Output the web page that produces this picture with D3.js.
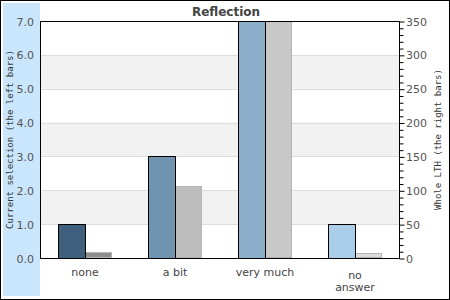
<!DOCTYPE html>
<html><head><meta charset="utf-8">
<script src="https://cdn.jsdelivr.net/npm/d3@7"></script>
<style>body{margin:0;background:#fff}svg{display:block}</style>
</head><body>
<script>
const title = "Reflection";
const categories = ["none", "a bit", "very much", "no answer"];
const currentValues = [1.0, 3.0, 7.0, 1.0];
const wholeValues = [9, 107, 350, 7];
const leftTicks = [0, 1, 2, 3, 4, 5, 6, 7];
const rightTicks = [0, 50, 100, 150, 200, 250, 300, 350];
const leftColors = ["#3f5f7c", "#7093b0", "#8caecb", "#aacee9"];
const rightColors = ["#8e8e8e", "#bdbdbd", "#c8c8c8", "#dcdcdc"];
const leftTitle = "Current selection (the left bars)";
const rightTitle = "Whole LTH (the right bars)";

const W = 450, H = 300;
const L = 40, R = 399, T = 21, B = 258;
const svg = d3.select("body").append("svg").attr("width", W).attr("height", H);

svg.append("rect").attr("x", 0.5).attr("y", 0.5).attr("width", W - 1).attr("height", H - 1)
  .attr("fill", "#fff").attr("stroke", "#000");
svg.append("rect").attr("x", 3).attr("y", 3).attr("width", L - 3).attr("height", 293).attr("fill", "#c9e6fc");

const x = d3.scaleBand().domain(categories).range([L, R + 1]).paddingInner(0.4).paddingOuter(0.2);
const yL = d3.scaleLinear().domain([0, 7]).range([B, T]).clamp(true);
const yR = d3.scaleLinear().domain([0, 350]).range([B, T]).clamp(true);

// bands
const bands = [[1, 2], [3, 4], [5, 6]];
svg.selectAll(".band").data(bands).enter().append("rect")
  .attr("x", L).attr("width", R - L)
  .attr("y", d => yL(d[1])).attr("height", d => yL(d[0]) - yL(d[1]))
  .attr("fill", "#f2f2f2");
svg.selectAll(".grid").data(leftTicks.slice(1, -1)).enter().append("line")
  .attr("x1", L).attr("x2", R)
  .attr("y1", d => Math.round(yL(d)) + 0.5).attr("y2", d => Math.round(yL(d)) + 0.5)
  .attr("stroke", "#dddddd");

const bw = x.bandwidth() / 2;
// right bars (gray)
svg.selectAll(".rb").data(wholeValues).enter().append("rect")
  .attr("x", (d, i) => Math.round(x(categories[i]) + bw) + 0.5)
  .attr("width", Math.round(bw) - 1)
  .attr("y", d => Math.round(yR(d)) + 0.5)
  .attr("height", d => Math.round(B - yR(d)) - 1)
  .attr("fill", (d, i) => rightColors[i]).attr("stroke", "#b4b4b4");
// left bars
svg.selectAll(".lb").data(currentValues).enter().append("rect")
  .attr("x", (d, i) => Math.round(x(categories[i])) + 0.5)
  .attr("width", Math.round(bw))
  .attr("y", d => Math.round(yL(d)) + 0.5)
  .attr("height", d => Math.round(B - yL(d)))
  .attr("fill", (d, i) => leftColors[i]).attr("stroke", "#000");

// frame
svg.append("rect").attr("x", L + 0.5).attr("y", T + 0.5).attr("width", R - L).attr("height", B - T)
  .attr("fill", "none").attr("stroke", "#000");

// left axis labels
svg.selectAll(".lt").data(leftTicks).enter().append("text")
  .attr("x", 34).attr("y", d => yL(d) + 4.5)
  .attr("text-anchor", "end").attr("font-family", "DejaVu Sans").attr("font-size", 11)
  .attr("fill", "#555").text(d => d.toFixed(1));

// right axis
const rAxis = d3.axisRight(yR).tickValues(d3.range(0, 351, 10)).tickSize(4).tickFormat("");
const ga = svg.append("g").attr("transform", `translate(${R + 0.5},0.5)`).call(rAxis);
ga.select(".domain").remove();
ga.selectAll("line").attr("stroke", "#000");
ga.selectAll(".tick").filter(d => d % 50 === 0).select("line").attr("x2", 5);
svg.selectAll(".rt").data(rightTicks).enter().append("text")
  .attr("x", 406).attr("y", d => yR(d) + 4.5)
  .attr("font-family", "DejaVu Sans").attr("font-size", 11)
  .attr("fill", "#555").text(d => d);

// x labels
categories.forEach((c, i) => {
  const cx = x(c) + x.bandwidth() / 2;
  const t = svg.append("text").attr("text-anchor", "middle").attr("font-family", "DejaVu Sans")
    .attr("font-size", 11).attr("fill", "#444");
  if (c === "no answer") {
    t.append("tspan").attr("x", cx).attr("y", 279).text("no");
    t.append("tspan").attr("x", cx).attr("y", 291).text("answer");
  } else {
    t.attr("x", cx).attr("y", 276).text(c);
  }
});

// titles
svg.append("text").attr("x", 226).attr("y", 16).attr("text-anchor", "middle")
  .attr("font-family", "DejaVu Sans").attr("font-weight", "bold").attr("font-size", 12)
  .attr("fill", "#444").text(title);
svg.append("text").attr("transform", `translate(13,${(T + B) / 2}) rotate(-90)`)
  .attr("text-anchor", "middle").attr("font-family", "DejaVu Sans Mono").attr("font-size", 9)
  .attr("fill", "#333").text(leftTitle);
svg.append("text").attr("transform", `translate(441,${(T + B) / 2}) rotate(-90)`)
  .attr("text-anchor", "middle").attr("font-family", "DejaVu Sans Mono").attr("font-size", 9)
  .attr("fill", "#333").text(rightTitle);
</script>
</body></html>
